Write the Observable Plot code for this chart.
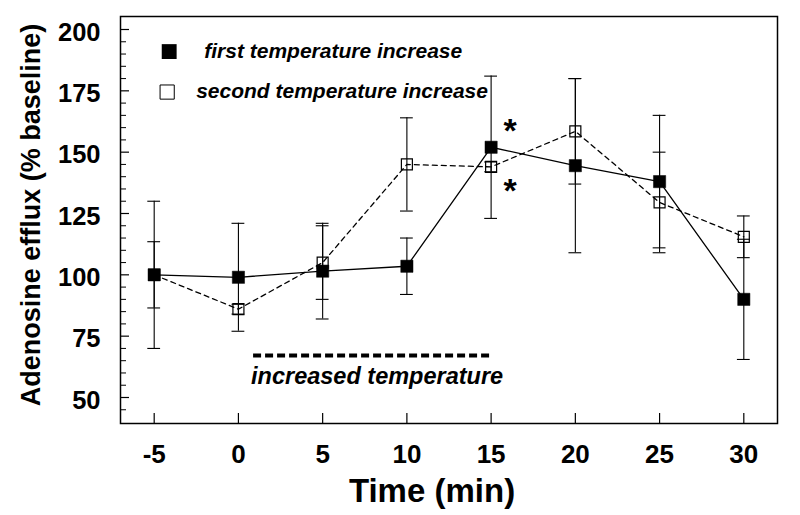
<!DOCTYPE html>
<html>
<head>
<meta charset="utf-8">
<script src="https://cdn.jsdelivr.net/npm/d3@7"></script>
<script src="https://cdn.jsdelivr.net/npm/@observablehq/plot@0.6"></script>
<style>
  body { margin: 0; background: #fff; }
  #chart svg { display: block; }
</style>
</head>
<body>
<div id="chart"></div>
<script>
// ---- data ----
const times = [-5, 0, 5, 10, 15, 20, 25, 30];
const firstMean = [100, 99, 101.5, 103.5, 152, 144.5, 138, 90];
const firstErr  = [13.5, 22, 19.5, 11.5, 29, 35.5, 27, 24.5];
const secondMean = [100, 86, 105, 145, 144, 158.5, 129.5, 115.5];
const secondErr  = [30, 2, 15, 19, 2, 21.5, 20.5, 8.5];
const seriesNames = ["first temperature increase", "second temperature increase"];
const xTicks = [-5, 0, 5, 10, 15, 20, 25, 30];
const yTicks = [50, 75, 100, 125, 150, 175, 200];
const yMinorTicks = d3.range(45, 201, 5).filter(v => v % 25 !== 0);
const sigMarks = [{t: 16.13, v: 160.5}, {t: 16.13, v: 136}];
const periodLabel = "increased temperature";
const periodRange = [0.9, 15.1];
const xTitle = "Time (min)";
const yTitle = "Adenosine efflux (% baseline)";

const first = times.map((t, i) => ({t, v: firstMean[i], e: firstErr[i]}));
const second = times.map((t, i) => ({t, v: secondMean[i], e: secondErr[i]}));

const W = 800, H = 515;
const mL = 120, mR = 23, mT = 16, mB = 92;
const fw = W - mL - mR, fh = H - mT - mB;
const font = "'Liberation Sans', Arial, Helvetica, sans-serif";
const capHalf = 0.38;

function errorMarks(data) {
  return [
    Plot.ruleX(data, {x: "t", y1: d => d.v - d.e, y2: d => d.v + d.e, stroke: "black", strokeWidth: 1.1}),
    Plot.ruleY(data, {y: d => d.v + d.e, x1: d => d.t - capHalf, x2: d => d.t + capHalf, stroke: "black", strokeWidth: 1.1}),
    Plot.ruleY(data, {y: d => d.v - d.e, x1: d => d.t - capHalf, x2: d => d.t + capHalf, stroke: "black", strokeWidth: 1.1})
  ];
}

const chart = Plot.plot({
  width: W, height: H,
  marginLeft: mL, marginRight: mR, marginTop: mT, marginBottom: mB,
  style: {fontFamily: font, fontWeight: "bold", background: "white", color: "black"},
  x: {domain: [-7, 32], axis: null},
  y: {domain: [39.4, 205.3], axis: null},
  marks: [
    // inward tick marks
    Plot.ruleY(yMinorTicks, {y: d => d, insetRight: fw - 6, stroke: "black", strokeWidth: 1}),
    Plot.ruleY(yTicks, {y: d => d, insetRight: fw - 9, stroke: "black", strokeWidth: 1.2}),
    Plot.ruleX(xTicks, {x: d => d, insetTop: fh - 10, stroke: "black", strokeWidth: 1.2}),
    // tick labels
    Plot.text(yTicks, {y: d => d, frameAnchor: "left", text: d => String(d), textAnchor: "end", lineAnchor: "middle", dx: -20, dy: 3, fontSize: 25.5, fontWeight: "bold"}),
    Plot.text(xTicks, {x: d => d, frameAnchor: "bottom", text: d => String(d), textAnchor: "middle", lineAnchor: "top", dy: 21, fontSize: 26, fontWeight: "bold"}),
    // axis titles
    Plot.text([xTitle], {frameAnchor: "bottom", text: d => d, textAnchor: "middle", lineAnchor: "middle", dx: -17, dy: 68, fontSize: 33, fontWeight: "bold"}),
    Plot.text([yTitle], {frameAnchor: "left", text: d => d, rotate: -90, textAnchor: "middle", lineAnchor: "middle", dx: -89, dy: -5, fontSize: 27, fontWeight: "bold"}),
    // error bars
    ...errorMarks(first),
    ...errorMarks(second),
    // lines
    Plot.line(first, {x: "t", y: "v", stroke: "black", strokeWidth: 1.3}),
    Plot.line(second, {x: "t", y: "v", stroke: "black", strokeWidth: 1.3, strokeDasharray: "5,4"}),
    // markers
    Plot.dot(first, {x: "t", y: "v", symbol: "square", r: 6.9, fill: "black", stroke: "black", strokeWidth: 0.5}),
    Plot.dot(second, {x: "t", y: "v", symbol: "square", r: 6.2, fill: "none", stroke: "black", strokeWidth: 1.2}),
    // significance asterisks
    Plot.text(sigMarks, {x: "t", y: "v", text: () => "*", fontSize: 34, fontWeight: "bold", dy: 4.5}),
    // increased-temperature period
    Plot.ruleY([periodRange], {y: 67.1, x1: d => d[0], x2: d => d[1], stroke: "black", strokeWidth: 4, strokeDasharray: "8,4"}),
    Plot.text([periodLabel], {x: periodRange[0] - 0.15, y: 58.6, text: d => d, textAnchor: "start", fontSize: 23.5, fontWeight: "bold", fontStyle: "italic"}),
    // legend
    Plot.dot([seriesNames[0]], {x: -4.11, y: 191.0, symbol: "square", r: 8.4, fill: "black"}),
    Plot.dot([seriesNames[1]], {x: -4.23, y: 174.5, symbol: "square", r: 8.0, fill: "none", stroke: "black", strokeWidth: 1}),
    Plot.text([seriesNames[0]], {x: -2.03, y: 191.3, text: d => d, textAnchor: "start", fontSize: 21, fontWeight: "bold", fontStyle: "italic"}),
    Plot.text([seriesNames[1]], {x: -2.51, y: 175.0, text: d => d, textAnchor: "start", fontSize: 21, fontWeight: "bold", fontStyle: "italic"}),
    // frame
    Plot.frame({stroke: "black", strokeWidth: 1.5})
  ]
});
document.getElementById("chart").append(chart);
</script>
</body>
</html>
